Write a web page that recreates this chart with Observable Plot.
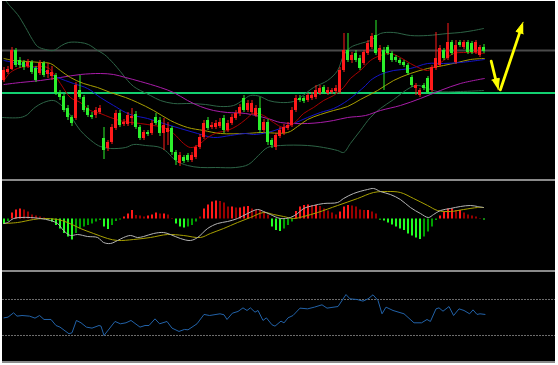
<!DOCTYPE html>
<html><head><meta charset="utf-8">
<script src="https://cdn.jsdelivr.net/npm/d3@7"></script>
<script src="https://cdn.jsdelivr.net/npm/@observablehq/plot@0.6"></script>
<style>
html,body{margin:0;padding:0;background:#fff;}
#frame{position:absolute;left:2px;top:1px;width:553px;height:362px;background:#000;overflow:hidden;}
.panel{position:absolute;left:0;}
.sep{position:absolute;left:0;width:553px;height:2px;background:#8a8a8a;}
</style></head><body>
<div id="frame">
 <div id="main" class="panel" style="top:0"></div>
 <div class="sep" style="top:178px"></div>
 <div id="macd" class="panel" style="top:180px"></div>
 <div class="sep" style="top:269px"></div>
 <div id="rsi" class="panel" style="top:271px"></div>
 <div class="sep" style="top:360px"></div>
</div>
<script>
// ---- candles (price in chart points) ----
const open  = [100,108,111,130,120,118,114,118,112,107,117,106,104,105,87,84,72,63,62,90,83,72,65,65,68,42,32,38,52,67,56,56,62,66,53,42,48,47,63,60,47,48,52,28,17,23,25,20,23,33,43,60,53,53,54,62,50,57,62,67,82,70,68,65,72,50,58,40,33,44,47,52,55,70,82,82,80,82,83,87,93,87,88,89,88,110,130,120,127,122,117,127,133,145,120,130,133,127,123,120,118,115,103,92,85,95,102,90,112,115,130,122,138,118,138,133,138,137,128,125,133];
const high  = [113,114,133,132,123,120,121,120,114,120,119,117,114,107,90,86,75,65,98,105,85,75,68,73,75,53,40,56,70,70,61,68,72,69,55,50,50,60,67,63,62,58,54,30,28,25,27,28,35,46,60,63,58,60,62,65,60,66,70,76,85,80,80,75,83,61,61,42,47,53,56,58,73,85,85,84,87,88,95,95,95,93,92,95,113,147,147,128,130,125,130,140,147,160,135,133,135,129,125,122,120,117,105,97,92,97,104,115,148,135,132,157,140,140,140,140,140,139,140,135,136];
const low   = [98,106,110,113,112,110,112,106,98,105,103,102,100,85,80,68,60,54,60,81,68,63,61,62,66,21,29,36,50,53,54,54,55,51,40,40,44,45,55,44,30,35,25,15,14,17,18,18,21,31,41,50,51,51,52,47,48,55,60,64,68,68,66,63,47,48,35,32,30,42,45,50,53,68,78,77,78,80,81,85,86,85,86,87,86,108,118,117,118,110,115,125,131,125,118,90,125,118,118,115,113,105,93,85,83,90,86,88,110,113,120,120,125,116,133,131,126,126,126,123,127];
const close = [110,111,130,115,115,113,118,108,100,117,105,110,108,87,83,70,63,57,95,83,70,65,63,70,72,30,38,53,67,55,58,65,64,53,42,48,46,57,57,47,55,52,28,20,25,19,20,25,33,43,57,52,55,57,58,50,57,63,67,73,70,77,77,72,50,58,38,35,45,50,53,55,70,82,80,79,85,85,90,92,88,90,90,92,110,130,120,125,120,112,128,137,144,127,132,108,127,120,120,117,115,107,95,95,90,92,88,113,122,132,122,138,127,135,135,138,128,128,138,133,129];

// ---- overlay lines: [bar, price] ----
const bbUpper = [[0.4,180],[1.6,174],[3.4,166],[5.4,153],[7.1,141],[8.4,134],[10.4,131],[12.4,130],[14.4,135],[16.1,138],[19.1,138],[21.1,136],[23.4,130],[25.1,126],[27.4,117],[29.1,109],[30.9,100],[32.4,94],[34.1,90],[36.6,85],[39.1,80],[42.4,77],[46.6,77],[50.4,76],[54.1,74],[57.4,75],[59.6,80],[61.6,85],[64.1,84],[66.1,80],[69.1,78],[72.4,79],[74.1,83],[77.4,93],[80.9,100],[83.4,110],[84.9,125],[86.6,133],[89.1,137],[91.6,140],[94.1,147],[97.4,148],[101.6,145],[105.9,145],[110.9,147],[114.1,148],[117.4,150],[119.9,152]];
const bbLower = [[-0.4,63],[4.1,63],[5.9,66],[7.4,72],[9.9,78],[12.4,80],[14.1,76],[15.9,69],[19.1,50],[22.4,38],[24.1,34],[26.6,32],[30.4,33],[32.4,36],[35.4,35],[39.1,33],[40.9,28],[42.9,20],[45.9,15],[49.1,13],[52.9,13],[57.9,13],[61.1,16],[63.6,25],[65.9,33],[69.1,35],[75.9,35],[79.9,33],[83.4,30],[84.9,28],[86.6,37],[89.1,50],[91.6,63],[94.1,72],[97.4,81],[101.6,93],[103.6,95],[105.9,92],[108.4,89],[114.1,89],[119.9,90]];
const maRed = [[0,100],[1.6,108],[4.1,113],[7.4,114],[10.9,113],[12.4,107],[14.1,97],[16.6,83],[19.1,78],[21.6,70],[24.1,67],[26.6,63],[29.9,59],[34.1,57],[37.4,55],[39.9,53],[42.4,47],[44.9,37],[46.6,33],[48.4,35],[50.9,43],[53.4,48],[55.9,50],[58.4,55],[60.4,61],[62.4,67],[64.9,65],[67.4,58],[69.9,53],[72.4,57],[74.9,67],[77.4,73],[79.9,80],[82.4,85],[84.9,93],[86.6,102],[89.1,110],[91.6,120],[94.1,125],[96.6,127],[99.1,123],[101.6,117],[104.1,112],[105.9,110],[107.4,113],[109.9,120],[112.4,127],[114.9,128],[117.4,128],[120.1,127]];
const maBlue = [[0,120],[2.4,118],[5.9,115],[9.9,110],[13.4,103],[17.4,97],[20.9,92],[24.1,83],[27.4,75],[30.4,68],[32.4,65],[35.9,62],[39.9,57],[44.1,52],[48.4,47],[52.4,43],[56.6,45],[60.4,47],[62.4,46],[65.9,48],[69.1,52],[72.4,57],[75.9,63],[79.1,68],[82.4,72],[85.9,80],[88.4,88],[90.4,95],[91.6,100],[94.1,106],[97.4,110],[101.6,112],[105.9,117],[109.9,117],[114.1,118],[120.1,121]];
const maOlive = [[0,122],[2.4,120],[5.9,119],[9.1,118],[11.6,117],[14.1,110],[16.6,103],[19.9,97],[23.4,93],[26.6,88],[30.4,83],[33.4,78],[37.4,70],[41.6,60],[45.9,53],[49.9,50],[54.1,47],[60.4,47],[64.1,48],[70.9,48],[73.4,54],[75.9,61],[79.1,66],[82.4,70],[85.9,74],[89.1,81],[93.4,90],[97.4,100],[101.6,107],[105.9,112],[109.9,115],[113.4,118],[116.6,121],[120.1,122]];
const maMagenta = [[0,96],[4.1,98],[9.1,100],[14.1,103],[19.1,106],[24.1,107],[27.4,106],[30.4,103],[34.1,99],[39.1,93],[42.4,88],[45.9,80],[49.1,74],[52.4,70],[55.9,68],[60.4,67],[65.9,62],[69.1,58],[72.4,57],[75.9,57],[79.1,58],[82.4,60],[85.9,63],[90.4,65],[94.1,70],[99.1,75],[104.1,82],[109.1,90],[114.1,97],[120.1,102]];
const levels = [130, 87.5];             // gray resistance, green support
const arrowStart = [[121.8,119.3],[124.1,90.7]];
const arrowEnd   = [[123.55,90.7],[129.8,158.3]];

// ---- MACD ----
const hist = [-5.5,-2.5,6,9,10,9,7,4,3,2,1,-1,-3,-6.5,-10,-14.5,-18,-21,-14.5,-10,-8,-6.5,-5,-3,-1.5,-8,-10.5,-6.5,-2.5,-1,2,5,8.5,3.5,3,2,3,4,6,5,5,4,0.5,-5,-8,-9,-8,-6.5,-3,2,10,14,17,18,17.5,16,12,12,11,11,12,12.5,10,9,8.5,7,4,-8,-11.5,-12.5,-10,-6.5,-3,7.5,12,13.5,14,13.5,13.5,12.5,10,8,6,4,7,12,13.5,13,12,9,8.5,8.5,7,5,-1.5,-2,-4,-6,-8,-10,-11.5,-15,-17,-19,-20.5,-18,-13,-8,-1.5,3,7,10,10,8.5,8.5,6,4,3,2,0.5,-1];
const macdGray = [[0,-4.5],[0.9,-3.5],[2.4,0.5],[4.1,1.5],[6.6,1.5],[9.1,0.5],[11.6,-1.5],[13.4,-4.5],[14.9,-11.5],[16.6,-16.5],[18.4,-15.5],[20.9,-17.5],[23.4,-18.5],[24.9,-23.5],[26.6,-24.5],[28.4,-21.5],[29.9,-18.5],[31.6,-16.5],[33.4,-18.5],[34.9,-17.5],[37.4,-14.5],[39.9,-13.5],[41.6,-15.5],[44.1,-19.5],[46.6,-21.5],[48.4,-18.5],[50.9,-9.5],[53.4,-4.5],[55.9,-2.5],[58.4,0.5],[60.9,5.5],[63.4,9.5],[64.9,7.5],[66.6,4.5],[69.1,0.5],[71.6,1.5],[73.4,5.5],[74.9,10.5],[77.4,13.5],[79.9,15.5],[83.4,16.5],[84.9,20.5],[87.4,25.5],[90.9,29.5],[92.4,30.5],[94.1,27.5],[96.6,24.5],[99.1,19.5],[101.6,11.5],[104.1,5.5],[106.1,1.5],[107.4,4.5],[109.1,8.5],[111.6,10.5],[114.1,12.5],[116.6,13.5],[118.4,12.5],[119.9,11.5]];
const macdOlive = [[0,-4.5],[3.4,-3.5],[7.4,-0.5],[9.9,0.5],[13.4,-0.5],[15.9,-3.5],[19.1,-9.5],[22.4,-14.5],[25.9,-19.5],[28.4,-21.5],[32.4,-20.5],[36.6,-18.5],[40.9,-15.5],[44.9,-16.5],[49.1,-18.5],[51.6,-14.5],[54.9,-9.5],[58.4,-3.5],[61.6,1.5],[64.9,6.5],[67.4,4.5],[69.9,2.5],[72.4,0.5],[74.9,2.5],[78.4,6.5],[83.4,13.5],[88.4,20.5],[92.4,26.5],[95.9,27.5],[99.1,26.5],[102.4,20.5],[105.9,13.5],[108.4,8.5],[111.6,7.5],[114.9,9.5],[118.4,11.5],[119.9,11.5]];

// ---- RSI ----
const rsi = [[0,49.6],[1,50.4],[2.4,55.2],[3.25,51.5],[4.5,52.2],[6.4,51.5],[7.75,49.3],[8.9,52.2],[10,47.8],[11.75,47.8],[13,41.1],[14,39.3],[16.25,31.9],[17,33],[18.1,46.7],[19.25,44.1],[20.6,39.3],[22,38.2],[23.75,41.1],[24.25,40.4],[25,30],[27.75,45.6],[29.1,43],[30.5,44.1],[31.75,46.7],[34,39.3],[35.25,41.1],[36.25,41.1],[37.75,48.5],[38.9,43],[40.75,45.6],[42,38.2],[43.75,34.5],[45.1,36.7],[46,36.3],[48.25,43],[50,53.4],[51.4,52.2],[54,54.1],[55,53],[55.75,47.8],[57.1,54.8],[58.5,56.7],[59.75,60.7],[60.75,57.8],[61.6,60.7],[62.75,55.9],[63.5,57.8],[64.75,46.7],[65.6,49.6],[67,41.9],[67.75,40.4],[69.25,46],[70,44],[71,49.6],[72.25,52.2],[74,60.4],[75.9,59.6],[77.6,61.5],[79.5,64.1],[80.75,60.4],[83.5,62.2],[85.5,75.5],[86.5,70.7],[88.25,70],[89.75,68.2],[91,70.7],[92.25,75.2],[93.5,68.9],[94.5,54.1],[95.5,61.5],[97.25,57.8],[100,54.1],[102.5,44.1],[104.4,44.1],[105.75,47.8],[106.6,45.6],[108,59.6],[108.75,60.7],[109.75,57],[111.25,62.2],[112.4,52.2],[113.75,59.6],[115,57.8],[116.4,54.1],[117.25,58.5],[118.25,53.4],[119,54.1],[120.25,53.4]];
const rsiLevels = [70, 30];

// ---- styling ----
const UP = "#ff1a1a", DOWN = "#2cf02c";
const W = 553, XDOM = [-0.375, 137.875], PX_PER_BAR = 4, PX_PER_PT = 1;
const pt = a => a.map(([b, v]) => ({b, v}));

const bars = open.map((o, i) => ({i, o, h: high[i], l: low[i], c: close[i]}));
const ups = bars.filter(d => d.c >= d.o), downs = bars.filter(d => d.c < d.o);
const bodyMarks = (data, color) => [
  Plot.ruleX(data, {x: "i", y1: "l", y2: "h", stroke: color, strokeWidth: 1}),
  Plot.rect(data, {x1: d => d.i - 0.375, x2: d => d.i + 0.375,
    y1: d => Math.min(d.o, d.c), y2: d => Math.max(Math.max(d.o, d.c), Math.min(d.o, d.c) + 1), fill: color})
];

// arrows: shaft + filled head
const shafts = [], heads = [];
arrowStart.forEach(([x1, y1], k) => {
  const [x2, y2] = arrowEnd[k];
  const dx = (x2 - x1) * PX_PER_BAR, dy = (y2 - y1) * PX_PER_PT;
  const len = Math.hypot(dx, dy), ux = dx / len, uy = dy / len;
  const L = 11, Hw = 3.8;
  const bx = x2 - ux * L / PX_PER_BAR, by = y2 - uy * L / PX_PER_PT;
  const nx = -uy, ny = ux;
  shafts.push({k, b: x1, v: y1}, {k, b: bx, v: by});
  heads.push({k, b: x2, v: y2},
    {k, b: bx + nx * Hw / PX_PER_BAR, v: by + ny * Hw / PX_PER_PT},
    {k, b: bx - nx * Hw / PX_PER_BAR, v: by - ny * Hw / PX_PER_PT});
});

const base = (h, ydom) => ({width: W, height: h, margin: 0,
  x: {domain: XDOM, axis: null}, y: {domain: ydom, axis: null},
  style: {background: "transparent", overflow: "hidden"}});

const main = Plot.plot({...base(178, [1, 179]), marks: [
  Plot.ruleY([levels[0]], {stroke: "#4a4a4a", strokeWidth: 2}),
  Plot.ruleY([levels[1]], {stroke: "#12d070", strokeWidth: 2}),
  Plot.line(pt(bbUpper), {x: "b", y: "v", stroke: "#2d6446", strokeWidth: 1, curve: "catmull-rom"}),
  Plot.line(pt(bbLower), {x: "b", y: "v", stroke: "#2d6446", strokeWidth: 1, curve: "catmull-rom"}),
  Plot.line(pt(maMagenta), {x: "b", y: "v", stroke: "#a81ca8", strokeWidth: 1, curve: "catmull-rom"}),
  Plot.line(pt(maOlive), {x: "b", y: "v", stroke: "#a89e00", strokeWidth: 1, curve: "catmull-rom"}),
  Plot.line(pt(maBlue), {x: "b", y: "v", stroke: "#1414c8", strokeWidth: 1, curve: "catmull-rom"}),
  Plot.line(pt(maRed), {x: "b", y: "v", stroke: "#a80000", strokeWidth: 1, curve: "catmull-rom"}),
  ...bodyMarks(ups, UP),
  ...bodyMarks(downs, DOWN),
  Plot.line(shafts, {x: "b", y: "v", z: "k", stroke: "#ffff00", strokeWidth: 2.8}),
  Plot.line(heads, {x: "b", y: "v", z: "k", fill: "#ffff00", stroke: "#ffff00", strokeWidth: 1})
]});
document.getElementById("main").append(main);

const hdata = hist.map((h, i) => {
  const prev = i > 0 ? hist[i - 1] : 0;
  const grow = Math.abs(h) >= Math.abs(prev);
  const color = h >= 0 ? (grow ? "#ff1a1a" : "#9a0000") : (grow ? "#22ff22" : "#00a000");
  return {i, h, color};
});
const macd = Plot.plot({...base(89, [-51.5, 37.5]), marks: [
  ...["#ff1a1a", "#9a0000", "#22ff22", "#00a000"].map(c =>
    Plot.ruleX(hdata.filter(d => d.color === c), {x: "i", y1: 0, y2: "h", stroke: c, strokeWidth: 2})),
  Plot.line(pt(macdOlive), {x: "b", y: "v", stroke: "#a8a000", strokeWidth: 1, curve: "catmull-rom"}),
  Plot.line(pt(macdGray), {x: "b", y: "v", stroke: "#b4b4b4", strokeWidth: 1, curve: "catmull-rom"})
]});
document.getElementById("macd").append(macd);

const rsiPlot = Plot.plot({...base(89, [1.1, 100]), marks: [
  Plot.ruleY(rsiLevels, {stroke: "#6e6e6e", strokeWidth: 1, strokeDasharray: "2,1"}),
  Plot.line(pt(rsi), {x: "b", y: "v", stroke: "#2262a8", strokeWidth: 1})
]});
document.getElementById("rsi").append(rsiPlot);
</script>
</body></html>
